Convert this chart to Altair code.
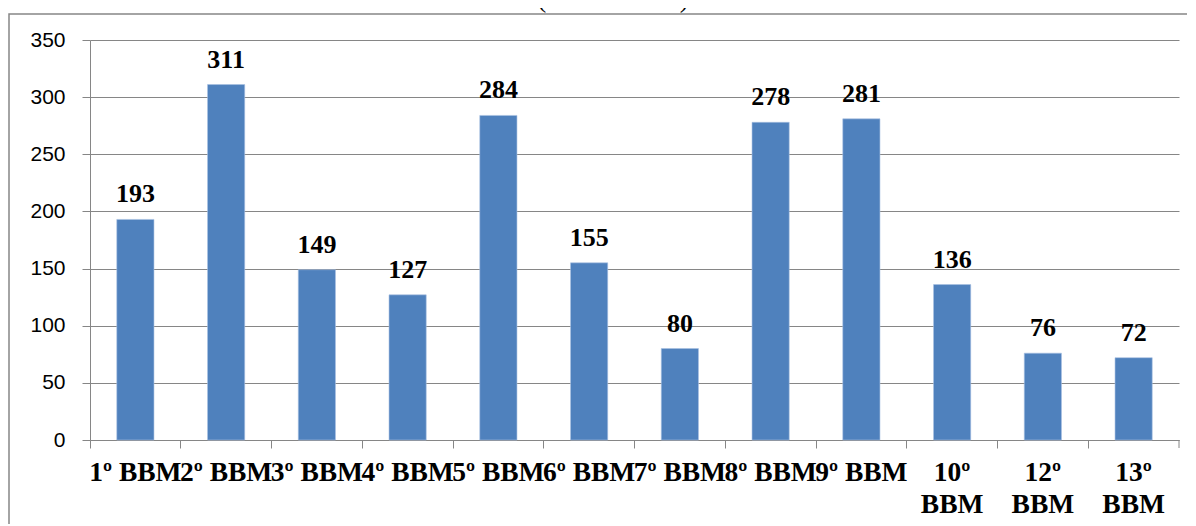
import altair as alt
import pandas as pd

categories = ["1º BBM", "2º BBM", "3º BBM", "4º BBM", "5º BBM", "6º BBM",
              "7º BBM", "8º BBM", "9º BBM", "10º BBM", "12º BBM", "13º BBM"]
values = [193, 311, 149, 127, 284, 155, 80, 278, 281, 136, 76, 72]
y_ticks = [0, 50, 100, 150, 200, 250, 300, 350]
title_text = "(2006 a 2010)"

df = pd.DataFrame({"cat": categories, "val": values})

W, H = 1089, 400
GRAY = "#868686"

x_enc = alt.X("cat:N", sort=categories, title=None,
              scale=alt.Scale(paddingInner=0, paddingOuter=0),
              axis=alt.Axis(labelAngle=0, labelFont="Liberation Serif", labelFontSize=27.5,
                            labelFontWeight="bold", labelColor="black", labelOverlap=False,
                            labelLimit=200, labelPadding=10, tickSize=8, tickColor=GRAY,
                            domainColor=GRAY, bandPosition=0, grid=False,
                            labelLineHeight=32, labelBaseline="top",
                            labelExpr="length(datum.label) > 6 ? split(datum.label, ' ') : datum.label"))
y_enc = alt.Y("val:Q", title=None,
              scale=alt.Scale(domain=[0, 350], nice=False),
              axis=alt.Axis(values=y_ticks, labelFont="Liberation Sans", labelFontSize=21,
                            labelColor="black", labelPadding=17, tickSize=8, tickColor=GRAY,
                            domainColor=GRAY, gridColor=GRAY, gridOpacity=1))

base = alt.Chart(df)
bars = base.mark_bar(color="#4F81BD", stroke="#A9C1E3", strokeWidth=0.6,
                     width=alt.RelativeBandSize(0.41)).encode(x=x_enc, y=y_enc)
labels = base.mark_text(font="Liberation Serif", fontSize=26, fontWeight="bold",
                        color="black", baseline="alphabetic", dy=-17).encode(
    x=alt.X("cat:N", sort=categories, bandPosition=0.5), y="val:Q", text="val:Q")

end_tick = alt.Chart(pd.DataFrame({"a": [0]})).mark_rule(color=GRAY).encode(
    x=alt.value(W), y=alt.value(H), y2=alt.value(H + 8))

border = alt.Chart(pd.DataFrame({"a": [0]})).mark_rect(
    fill=None, stroke=GRAY, strokeWidth=1.5, clip=False).encode(
    x=alt.value(-81), x2=alt.value(W + 40), y=alt.value(-26), y2=alt.value(H + 140))

title = alt.Chart(pd.DataFrame({"t": [title_text]})).mark_text(
    font="Liberation Serif", fontSize=27, color="black", baseline="bottom").encode(
    x=alt.value(523), y=alt.value(-27.5), text="t:N")

chart = alt.layer(bars, labels, end_tick, border, title).properties(
    width=W, height=H,
    padding={"left": 82, "top": 32, "right": 8, "bottom": 84},
    autosize=alt.AutoSizeParams(type="none"),
).configure_view(stroke=None).configure_axisY(domain=True)

chart.save("out.html", embed_options={"renderer": "svg", "actions": False})
